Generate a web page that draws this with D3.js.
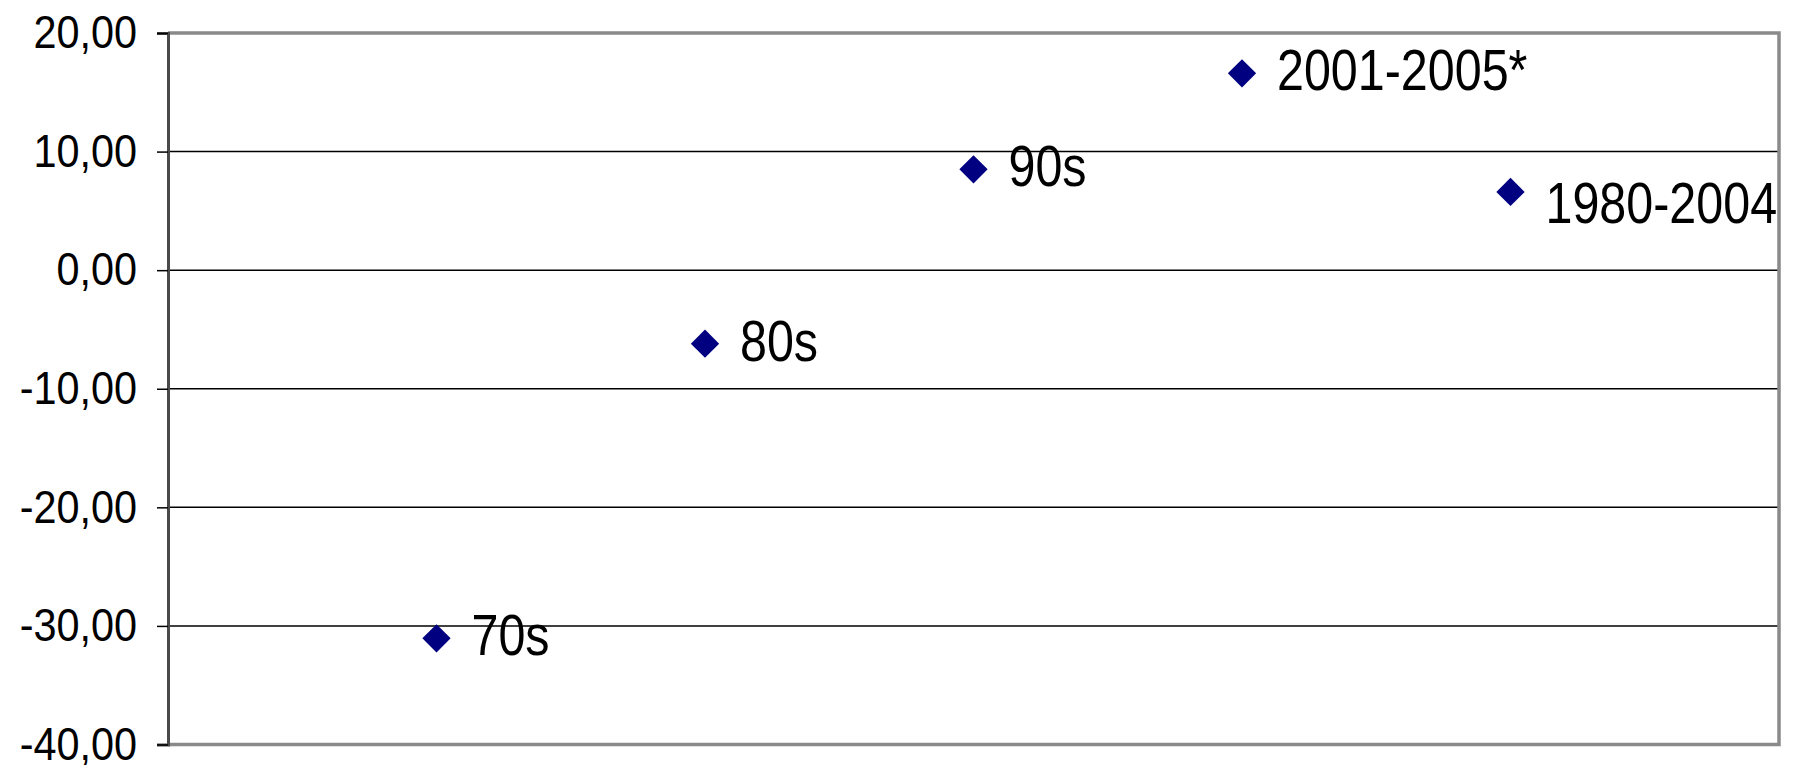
<!DOCTYPE html>
<html>
<head>
<meta charset="utf-8">
<script src="https://cdn.jsdelivr.net/npm/d3@7"></script>
<style>
  html, body { margin: 0; padding: 0; background: #ffffff; }
  svg { display: block; }
  text { font-family: "Liberation Sans", Arial, sans-serif; fill: #000; }
</style>
</head>
<body>
<svg id="chart" width="1793" height="765"></svg>
<script>
// Period labels, their position along the x axis, and the plotted values
const periods = ["70s", "80s", "90s", "2001-2005*", "1980-2004"];
const positions = [1, 2, 3, 4, 5];
const values = [-31.05, -6.2, 8.5, 16.6, 6.6];
const yTicks = [-40, -30, -20, -10, 0, 10, 20];

const svg = d3.select("#chart");
const plot = { left: 168, top: 33, right: 1779, bottom: 744.5 };

const x = d3.scaleLinear().domain([0, 6]).range([plot.left, plot.right]);
const y = d3.scaleLinear().domain([-40, 20]).range([plot.bottom, plot.top]);

const fmt = v => d3.format(".2f")(v).replace(".", ",").replace("−", "-");

// horizontal gridlines
svg.append("g")
  .selectAll("line")
  .data(yTicks.filter(t => t > -40 && t < 20))
  .join("line")
  .attr("x1", plot.left).attr("x2", plot.right)
  .attr("y1", d => y(d)).attr("y2", d => y(d))
  .attr("stroke", "#000").attr("stroke-width", 1.5);

// plot area frame (top, right, bottom)
svg.append("path")
  .attr("d", `M${plot.left},${plot.top}H${plot.right}V${plot.bottom}H${plot.left}`)
  .attr("fill", "none")
  .attr("stroke", "#8a8a8a")
  .attr("stroke-width", 3.5);

// y axis
const yAxis = svg.append("g")
  .attr("transform", `translate(${plot.left},0)`)
  .call(d3.axisLeft(y).tickValues(yTicks).tickSize(11).tickFormat(fmt));
yAxis.select(".domain").attr("stroke", "#4a4a4a").attr("stroke-width", 3);
yAxis.selectAll(".tick line").attr("stroke", "#000").attr("stroke-width", 1.5);
yAxis.selectAll(".tick text")
  .attr("x", null)
  .attr("transform", "translate(-31,0) scale(0.9,1)")
  .attr("font-size", 46)
  .attr("font-family", "Liberation Sans, Arial, sans-serif")
  .attr("fill", "#000");

// markers
const pts = periods.map((p, i) => ({ name: p, px: positions[i], v: values[i] }));
svg.append("g")
  .selectAll("path")
  .data(pts)
  .join("path")
  .attr("d", d3.symbol(d3.symbolSquare, 400))
  .attr("transform", d => `translate(${x(d.px)},${y(d.v)}) rotate(45)`)
  .attr("fill", "#000080");

// point labels
const labelShift = { "1980-2004": 14 };
svg.append("g")
  .selectAll("text")
  .data(pts)
  .join("text")
  .attr("transform", d => `translate(${x(d.px) + 35},${y(d.v) - 3 + (labelShift[d.name] || 0)}) scale(0.85,1)`)
  .attr("dy", "0.35em")
  .attr("font-size", 57)
  .text(d => d.name);
</script>
</body>
</html>
